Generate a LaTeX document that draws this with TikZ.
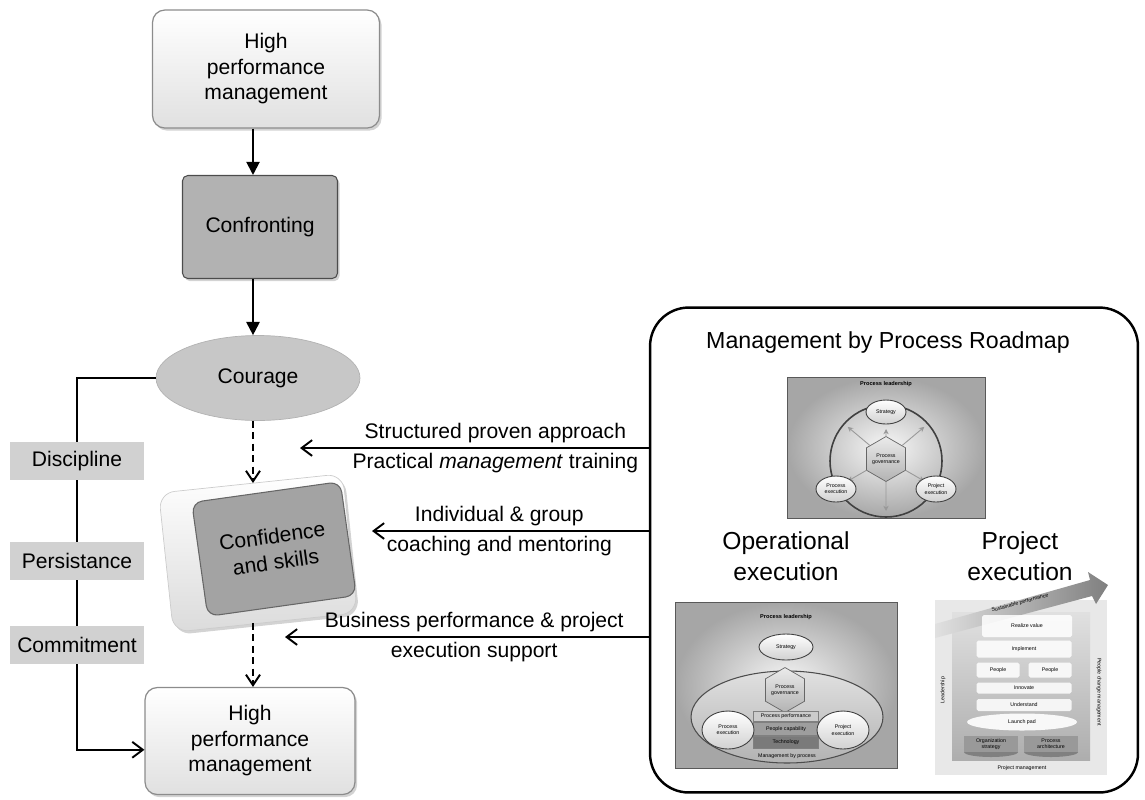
\documentclass[tikz,border=0pt]{standalone}
\usepackage{fontspec}
\setmainfont{Liberation Sans}
\usetikzlibrary{arrows.meta,shapes.geometric,shadows,positioning}

\newcommand{\minifont}{\fontsize{3}{3.6}\selectfont}
\newcommand{\minibold}{\fontsize{3.2}{3.8}\selectfont\bfseries}

\tikzset{
  mainfont/.style={font=\fontsize{12}{14.5}\selectfont},
  softshadow/.style={drop shadow={opacity=0.35,shadow xshift=1.2pt,shadow yshift=-1.5pt}},
  hpmbox/.style={draw=black!45, line width=0.7pt, rounded corners=7pt, top color=white,
    bottom color=black!12, align=center, mainfont, softshadow},
  confrbox/.style={draw=black!70, line width=0.6pt, rounded corners=3pt, fill=black!30,
    mainfont, softshadow},
  couragenode/.style={ellipse, draw=black!30, fill=black!22, mainfont},
  tagbox/.style={fill=black!18, minimum width=2.68cm, minimum height=0.76cm, mainfont},
  flowarrow/.style={line width=1.1pt, -{Triangle[length=7.5pt,width=7.5pt]}},
  dasharrow/.style={line width=1.1pt, dash pattern=on 4pt off 2.5pt,
    -{Straight Barb[length=6pt,width=8pt]}},
  sidearrow/.style={line width=1.1pt, -{Straight Barb[length=6pt,width=9pt]}},
  linelabel/.style={mainfont, inner sep=2.5pt},
  roadbox/.style={draw, line width=1.4pt, rounded corners=22pt},
  minipanel/.style={draw=black!65, line width=0.5pt, inner color=black!3, outer color=black!35},
  minitext/.style={font=\minifont, inner sep=0pt, align=center},
  miniell/.style={ellipse, draw=black!75, line width=0.5pt, top color=white, bottom color=black!18,
    minitext},
  minihex/.style={regular polygon, regular polygon sides=6, shape border rotate=30, draw=black!60,
    line width=0.4pt, top color=black!8, bottom color=black!30, minitext},
  minibar/.style={draw=black!50, line width=0.3pt, minitext},
  stackbar/.style={fill=white, rounded corners=1pt, minitext, fill opacity=0.85, text opacity=1}
}

\begin{document}
\begin{tikzpicture}[x=0.02cm,y=-0.02cm]
\useasboundingbox (0,0) rectangle (1145,799);
\coordinate (axis) at (253,0);

\node[hpmbox, minimum width=4.54cm, minimum height=2.36cm] (hpmtop) at (266,69) {High\\performance\\management};
\node[confrbox, minimum width=3.1cm, minimum height=2.06cm] (confr) at (260,227) {Confronting};
\node[couragenode, minimum width=4.08cm, minimum height=1.7cm] (courage) at (258,378) {Courage};
\node[rotate=6, rounded corners=9pt, minimum width=3.7cm, minimum height=2.8cm, top color=white,
  bottom color=black!14, draw=black!20, softshadow] (confback) at (258,553) {};
\node[rotate=8, rounded corners=6pt, fill=black!36, draw=black!60, line width=0.6pt, minimum width=3cm,
  minimum height=2.3cm, align=center, font=\fontsize{12}{15}\selectfont] (confid) at (274,549) {Confidence\\and skills};
\node[hpmbox, minimum width=4.2cm, minimum height=2.14cm] (hpmbot) at (250,741) {High\\performance\\management};

\draw[flowarrow] (hpmtop.south -| axis) -- (confr.north -| axis);
\draw[flowarrow] (confr.south -| axis) -- (courage.north -| axis);
\draw[dasharrow] (courage.south -| axis) -- (confback.north -| axis);
\draw[dasharrow] (confback.south -| axis) -- (hpmbot.north -| axis);

\node[tagbox] (disc) at (77,461) {Discipline};
\node[tagbox] (pers) at (77,561) {Persistance};
\node[tagbox] (commit) at (77,645) {Commitment};
\draw[line width=1.1pt] (courage.west) -| (disc.north);
\draw[line width=1.1pt] (disc.south) -- (pers.north);
\draw[line width=1.1pt] (pers.south) -- (commit.north);
\draw[sidearrow] (commit.south) |- ([yshift=-5pt]hpmbot.west);

\node[roadbox, minimum width=9.76cm, minimum height=9.7cm] (roadmap) at (894,550) {};
\node[font=\fontsize{13.2}{16}\selectfont] (roadtitle) at (888,342) {Management by Process Roadmap};

\coordinate (tipA) at (300,448);
\coordinate (tipB) at (372,531);
\coordinate (tipC) at (285,637);
\draw[sidearrow] (roadmap.west |- tipA) -- (tipA)
  node[linelabel, pos=0.44, above] (lblA) {Structured proven approach}
  node[linelabel, pos=0.44, below] (lblA2) {Practical \textit{management} training};
\draw[sidearrow] (roadmap.west |- tipB) -- (tipB)
  node[linelabel, pos=0.54, above] (lblB) {Individual \& group}
  node[linelabel, pos=0.54, below] (lblB2) {coaching and mentoring};
\draw[sidearrow] (roadmap.west |- tipC) -- (tipC)
  node[linelabel, pos=0.48, above] (lblC) {Business performance \& project}
  node[linelabel, pos=0.48, below] (lblC2) {execution support};

\node[font=\fontsize{14}{17.5}\selectfont, align=center] (opexec) at (786,556) {Operational\\execution};
\node[font=\fontsize{14}{17.5}\selectfont, align=center] (prexec) at (1020,556) {Project\\execution};

% process roadmap
\path[minipanel] (787,377) rectangle (985,518);
\node[minitext, font=\minibold] (d1lead) at (886,384) {Process leadership};
\draw[black!75, line width=0.9pt] (886,461) circle[radius=56];
\node[minihex, minimum size=0.86cm] (d1gov) at (886,459) {Process\\governance};
\foreach \a/\r in {270/30, 220/50, 320/50, 150/44, 30/44, 90/52}
  \draw[black!40, line width=0.5pt, -{Stealth[length=3pt,width=3pt]}] (d1gov) -- ++(\a:\r);
\node[miniell, minimum width=0.8cm, minimum height=0.48cm] (d1strat) at (886,412) {Strategy};
\node[miniell, minimum width=0.8cm, minimum height=0.52cm] (d1proc) at (836,489) {Process\\execution};
\node[miniell, minimum width=0.8cm, minimum height=0.52cm] (d1proj) at (936,489) {Project\\execution};

% operational execution
\path[minipanel] (675,602) rectangle (897,768);
\node[minitext, font=\minibold] (d2lead) at (786,617) {Process leadership};
\node[miniell, minimum width=1.08cm, minimum height=0.52cm] (d2strat) at (786,647) {Strategy};
\node[ellipse, draw=black!70, line width=0.6pt, top color=black!12, bottom color=black!30,
  minimum width=3.84cm, minimum height=1.84cm] (d2mbp) at (787,717) {};
\node[minihex, minimum size=0.8cm] (d2gov) at (785,690) {Process\\governance};
\node[minibar, fill=black!20, minimum width=1.3cm, minimum height=0.2cm] (d2perf) at (786,716) {Process performance};
\node[minibar, fill=black!38, minimum width=1.3cm, minimum height=0.26cm] (d2cap) at (786,729) {People capability};
\node[minibar, fill=black!52, minimum width=1.3cm, minimum height=0.24cm] (d2tech) at (786,742) {Technology};
\node[minitext] (d2label) at (787,756) {Management by process};
\node[miniell, minimum width=1.04cm, minimum height=0.76cm] (d2proc) at (728,730) {Process\\execution};
\node[miniell, minimum width=1.04cm, minimum height=0.76cm] (d2proj) at (843,730) {Project\\execution};

% project execution
\fill[black!9] (935,600) rectangle (1107,775);
\shade[top color=black!12, bottom color=black!32] (952,612) rectangle (1090,760);
\shade[left color=black!12, right color=black!50] (935,624) -- (1090,580) -- (1088,572) -- (1108,585)
  -- (1096,604) -- (1092,596) -- (935,638) -- cycle;
\node[minitext, rotate=15] (d3sust) at (1020,603) {Sustainable performance};
\node[stackbar, minimum width=1.8cm, minimum height=0.44cm] (d3real) at (1027,626) {Realize value};
\node[stackbar, minimum width=1.9cm, minimum height=0.34cm] (d3impl) at (1024,649) {Implement};
\node[stackbar, minimum width=0.86cm, minimum height=0.3cm] (d3peopleL) at (998,670) {People};
\node[stackbar, minimum width=0.86cm, minimum height=0.3cm] (d3peopleR) at (1050,670) {People};
\node[stackbar, minimum width=1.9cm, minimum height=0.22cm] (d3innov) at (1024,688) {Innovate};
\node[stackbar, minimum width=1.9cm, minimum height=0.24cm] (d3under) at (1024,705) {Understand};
\fill[black!50] (991,752) ellipse[x radius=27, y radius=5];
\fill[black!40] (964,736) rectangle (1018,752);
\fill[black!50] (1051,752) ellipse[x radius=27, y radius=5];
\fill[black!40] (1024,736) rectangle (1078,752);
\node[minitext] (d3org) at (991,744) {Organization\\strategy};
\node[minitext] (d3arch) at (1051,744) {Process\\architecture};
\node[ellipse, fill=white, fill opacity=0.9, text opacity=1, minimum width=2.2cm, minimum height=0.34cm,
  minitext] (d3launch) at (1022,722) {Launch pad};
\node[minitext, rotate=90] (d3lead) at (943,690) {Leadership};
\node[minitext, rotate=-90] (d3change) at (1099,692) {People change management};
\node[minitext] (d3pm) at (1022,768) {Project management};
\end{tikzpicture}
\end{document}
